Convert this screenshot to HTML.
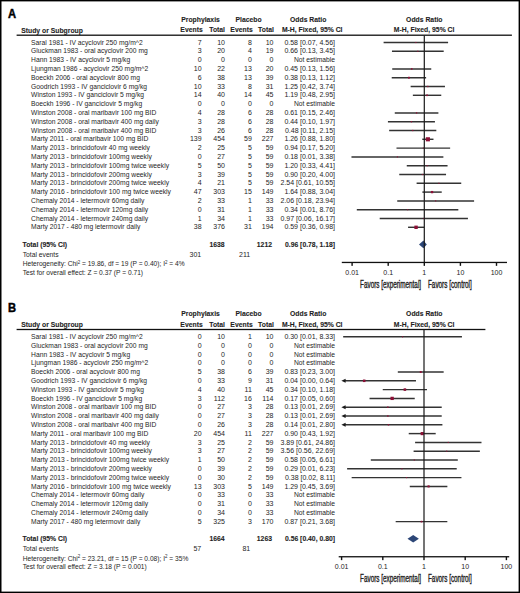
<!DOCTYPE html>
<html><head><meta charset="utf-8"><title>Forest plot</title>
<style>
html,body{margin:0;padding:0;background:#fff;}
body{width:520px;height:593px;overflow:hidden;position:relative;}
svg{position:absolute;left:0;top:0;display:block;font-family:"Liberation Sans",sans-serif;}
.frame{position:absolute;left:0;top:0;width:520px;height:593px;border:1.4px solid #000;box-sizing:border-box;}
</style></head>
<body>
<svg width="520" height="593" viewBox="0 0 520 593">
<text transform="translate(8.00,18.00) scale(0.93,1)" text-anchor="start" font-size="12" font-weight="bold" fill="#000" stroke="#000" stroke-width="0.45">A</text>
<text transform="translate(181.20,22.00) scale(0.975,1)" text-anchor="start" font-size="7.0" font-weight="bold" fill="#1e1e1e" stroke="#1e1e1e" stroke-width="0.1">Prophylaxis</text>
<text transform="translate(235.50,22.00) scale(0.975,1)" text-anchor="start" font-size="7.0" font-weight="bold" fill="#1e1e1e" stroke="#1e1e1e" stroke-width="0.1">Placebo</text>
<text transform="translate(290.00,22.00) scale(0.975,1)" text-anchor="start" font-size="7.0" font-weight="bold" fill="#1e1e1e" stroke="#1e1e1e" stroke-width="0.1">Odds Ratio</text>
<text transform="translate(406.10,22.00) scale(0.975,1)" text-anchor="start" font-size="7.0" font-weight="bold" fill="#1e1e1e" stroke="#1e1e1e" stroke-width="0.1">Odds Ratio</text>
<text transform="translate(21.20,32.50) scale(0.975,1)" text-anchor="start" font-size="7.0" font-weight="bold" fill="#1e1e1e" stroke="#1e1e1e" stroke-width="0.1">Study or Subgroup</text>
<text transform="translate(202.70,32.30) scale(0.975,1)" text-anchor="end" font-size="7.0" font-weight="bold" fill="#1e1e1e" stroke="#1e1e1e" stroke-width="0.1">Events</text>
<text transform="translate(225.00,32.30) scale(0.975,1)" text-anchor="end" font-size="7.0" font-weight="bold" fill="#1e1e1e" stroke="#1e1e1e" stroke-width="0.1">Total</text>
<text transform="translate(252.70,32.30) scale(0.975,1)" text-anchor="end" font-size="7.0" font-weight="bold" fill="#1e1e1e" stroke="#1e1e1e" stroke-width="0.1">Events</text>
<text transform="translate(273.90,32.30) scale(0.975,1)" text-anchor="end" font-size="7.0" font-weight="bold" fill="#1e1e1e" stroke="#1e1e1e" stroke-width="0.1">Total</text>
<text transform="translate(281.90,32.30) scale(0.975,1)" text-anchor="start" font-size="7.0" font-weight="bold" fill="#1e1e1e" stroke="#1e1e1e" stroke-width="0.1">M-H, Fixed, 95% CI</text>
<text transform="translate(393.80,32.30) scale(0.975,1)" text-anchor="start" font-size="7.0" font-weight="bold" fill="#1e1e1e" stroke="#1e1e1e" stroke-width="0.1">M-H, Fixed, 95% CI</text>
<rect x="16.6" y="34.55" width="495.30" height="1.3" fill="#111"/>
<text transform="translate(31.10,44.60) scale(0.962,1)" text-anchor="start" font-size="7.0" font-weight="normal" fill="#1e1e1e">Saral 1981 - IV acyclovir 250 mg/m^2</text>
<text transform="translate(201.60,44.60) scale(1.0,1)" text-anchor="end" font-size="7.0" font-weight="normal" fill="#1e1e1e">7</text>
<text transform="translate(225.00,44.60) scale(1.0,1)" text-anchor="end" font-size="7.0" font-weight="normal" fill="#1e1e1e">10</text>
<text transform="translate(251.80,44.60) scale(1.0,1)" text-anchor="end" font-size="7.0" font-weight="normal" fill="#1e1e1e">8</text>
<text transform="translate(273.50,44.60) scale(1.0,1)" text-anchor="end" font-size="7.0" font-weight="normal" fill="#1e1e1e">10</text>
<text transform="translate(335.00,44.60) scale(1.0,1)" text-anchor="end" font-size="7.0" font-weight="normal" fill="#1e1e1e">0.58 [0.07, 4.56]</text>
<text transform="translate(31.10,53.40) scale(0.962,1)" text-anchor="start" font-size="7.0" font-weight="normal" fill="#1e1e1e">Gluckman 1983 - oral acyclovir 200 mg</text>
<text transform="translate(201.60,53.40) scale(1.0,1)" text-anchor="end" font-size="7.0" font-weight="normal" fill="#1e1e1e">3</text>
<text transform="translate(225.00,53.40) scale(1.0,1)" text-anchor="end" font-size="7.0" font-weight="normal" fill="#1e1e1e">20</text>
<text transform="translate(251.80,53.40) scale(1.0,1)" text-anchor="end" font-size="7.0" font-weight="normal" fill="#1e1e1e">4</text>
<text transform="translate(273.50,53.40) scale(1.0,1)" text-anchor="end" font-size="7.0" font-weight="normal" fill="#1e1e1e">19</text>
<text transform="translate(335.00,53.40) scale(1.0,1)" text-anchor="end" font-size="7.0" font-weight="normal" fill="#1e1e1e">0.66 [0.13, 3.45]</text>
<text transform="translate(31.10,62.20) scale(0.962,1)" text-anchor="start" font-size="7.0" font-weight="normal" fill="#1e1e1e">Hann 1983 - IV acyclovir 5 mg/kg</text>
<text transform="translate(201.60,62.20) scale(1.0,1)" text-anchor="end" font-size="7.0" font-weight="normal" fill="#1e1e1e">0</text>
<text transform="translate(225.00,62.20) scale(1.0,1)" text-anchor="end" font-size="7.0" font-weight="normal" fill="#1e1e1e">0</text>
<text transform="translate(251.80,62.20) scale(1.0,1)" text-anchor="end" font-size="7.0" font-weight="normal" fill="#1e1e1e">0</text>
<text transform="translate(273.50,62.20) scale(1.0,1)" text-anchor="end" font-size="7.0" font-weight="normal" fill="#1e1e1e">0</text>
<text transform="translate(335.00,62.20) scale(0.962,1)" text-anchor="end" font-size="7.0" font-weight="normal" fill="#1e1e1e">Not estimable</text>
<text transform="translate(31.10,71.00) scale(0.962,1)" text-anchor="start" font-size="7.0" font-weight="normal" fill="#1e1e1e">Ljungman 1986 - acyclovir 250 mg/m^2</text>
<text transform="translate(201.60,71.00) scale(1.0,1)" text-anchor="end" font-size="7.0" font-weight="normal" fill="#1e1e1e">10</text>
<text transform="translate(225.00,71.00) scale(1.0,1)" text-anchor="end" font-size="7.0" font-weight="normal" fill="#1e1e1e">22</text>
<text transform="translate(251.80,71.00) scale(1.0,1)" text-anchor="end" font-size="7.0" font-weight="normal" fill="#1e1e1e">13</text>
<text transform="translate(273.50,71.00) scale(1.0,1)" text-anchor="end" font-size="7.0" font-weight="normal" fill="#1e1e1e">20</text>
<text transform="translate(335.00,71.00) scale(1.0,1)" text-anchor="end" font-size="7.0" font-weight="normal" fill="#1e1e1e">0.45 [0.13, 1.56]</text>
<text transform="translate(31.10,79.80) scale(0.962,1)" text-anchor="start" font-size="7.0" font-weight="normal" fill="#1e1e1e">Boeckh 2006 - oral acyclovir 800 mg</text>
<text transform="translate(201.60,79.80) scale(1.0,1)" text-anchor="end" font-size="7.0" font-weight="normal" fill="#1e1e1e">6</text>
<text transform="translate(225.00,79.80) scale(1.0,1)" text-anchor="end" font-size="7.0" font-weight="normal" fill="#1e1e1e">38</text>
<text transform="translate(251.80,79.80) scale(1.0,1)" text-anchor="end" font-size="7.0" font-weight="normal" fill="#1e1e1e">13</text>
<text transform="translate(273.50,79.80) scale(1.0,1)" text-anchor="end" font-size="7.0" font-weight="normal" fill="#1e1e1e">39</text>
<text transform="translate(335.00,79.80) scale(1.0,1)" text-anchor="end" font-size="7.0" font-weight="normal" fill="#1e1e1e">0.38 [0.13, 1.12]</text>
<text transform="translate(31.10,88.60) scale(0.962,1)" text-anchor="start" font-size="7.0" font-weight="normal" fill="#1e1e1e">Goodrich 1993 - IV ganciclovir 6 mg/kg</text>
<text transform="translate(201.60,88.60) scale(1.0,1)" text-anchor="end" font-size="7.0" font-weight="normal" fill="#1e1e1e">10</text>
<text transform="translate(225.00,88.60) scale(1.0,1)" text-anchor="end" font-size="7.0" font-weight="normal" fill="#1e1e1e">33</text>
<text transform="translate(251.80,88.60) scale(1.0,1)" text-anchor="end" font-size="7.0" font-weight="normal" fill="#1e1e1e">8</text>
<text transform="translate(273.50,88.60) scale(1.0,1)" text-anchor="end" font-size="7.0" font-weight="normal" fill="#1e1e1e">31</text>
<text transform="translate(335.00,88.60) scale(1.0,1)" text-anchor="end" font-size="7.0" font-weight="normal" fill="#1e1e1e">1.25 [0.42, 3.74]</text>
<text transform="translate(31.10,97.40) scale(0.962,1)" text-anchor="start" font-size="7.0" font-weight="normal" fill="#1e1e1e">Winston 1993 - IV ganciclovir 5 mg/kg</text>
<text transform="translate(201.60,97.40) scale(1.0,1)" text-anchor="end" font-size="7.0" font-weight="normal" fill="#1e1e1e">14</text>
<text transform="translate(225.00,97.40) scale(1.0,1)" text-anchor="end" font-size="7.0" font-weight="normal" fill="#1e1e1e">40</text>
<text transform="translate(251.80,97.40) scale(1.0,1)" text-anchor="end" font-size="7.0" font-weight="normal" fill="#1e1e1e">14</text>
<text transform="translate(273.50,97.40) scale(1.0,1)" text-anchor="end" font-size="7.0" font-weight="normal" fill="#1e1e1e">45</text>
<text transform="translate(335.00,97.40) scale(1.0,1)" text-anchor="end" font-size="7.0" font-weight="normal" fill="#1e1e1e">1.19 [0.48, 2.95]</text>
<text transform="translate(31.10,106.20) scale(0.962,1)" text-anchor="start" font-size="7.0" font-weight="normal" fill="#1e1e1e">Boeckh 1996 - IV ganciclovir 5 mg/kg</text>
<text transform="translate(201.60,106.20) scale(1.0,1)" text-anchor="end" font-size="7.0" font-weight="normal" fill="#1e1e1e">0</text>
<text transform="translate(225.00,106.20) scale(1.0,1)" text-anchor="end" font-size="7.0" font-weight="normal" fill="#1e1e1e">0</text>
<text transform="translate(251.80,106.20) scale(1.0,1)" text-anchor="end" font-size="7.0" font-weight="normal" fill="#1e1e1e">0</text>
<text transform="translate(273.50,106.20) scale(1.0,1)" text-anchor="end" font-size="7.0" font-weight="normal" fill="#1e1e1e">0</text>
<text transform="translate(335.00,106.20) scale(0.962,1)" text-anchor="end" font-size="7.0" font-weight="normal" fill="#1e1e1e">Not estimable</text>
<text transform="translate(31.10,115.00) scale(0.962,1)" text-anchor="start" font-size="7.0" font-weight="normal" fill="#1e1e1e">Winston 2008 - oral maribavir 100 mg BID</text>
<text transform="translate(201.60,115.00) scale(1.0,1)" text-anchor="end" font-size="7.0" font-weight="normal" fill="#1e1e1e">4</text>
<text transform="translate(225.00,115.00) scale(1.0,1)" text-anchor="end" font-size="7.0" font-weight="normal" fill="#1e1e1e">28</text>
<text transform="translate(251.80,115.00) scale(1.0,1)" text-anchor="end" font-size="7.0" font-weight="normal" fill="#1e1e1e">6</text>
<text transform="translate(273.50,115.00) scale(1.0,1)" text-anchor="end" font-size="7.0" font-weight="normal" fill="#1e1e1e">28</text>
<text transform="translate(335.00,115.00) scale(1.0,1)" text-anchor="end" font-size="7.0" font-weight="normal" fill="#1e1e1e">0.61 [0.15, 2.46]</text>
<text transform="translate(31.10,123.80) scale(0.962,1)" text-anchor="start" font-size="7.0" font-weight="normal" fill="#1e1e1e">Winston 2008 - oral maribavir 400 mg daily</text>
<text transform="translate(201.60,123.80) scale(1.0,1)" text-anchor="end" font-size="7.0" font-weight="normal" fill="#1e1e1e">3</text>
<text transform="translate(225.00,123.80) scale(1.0,1)" text-anchor="end" font-size="7.0" font-weight="normal" fill="#1e1e1e">28</text>
<text transform="translate(251.80,123.80) scale(1.0,1)" text-anchor="end" font-size="7.0" font-weight="normal" fill="#1e1e1e">6</text>
<text transform="translate(273.50,123.80) scale(1.0,1)" text-anchor="end" font-size="7.0" font-weight="normal" fill="#1e1e1e">28</text>
<text transform="translate(335.00,123.80) scale(1.0,1)" text-anchor="end" font-size="7.0" font-weight="normal" fill="#1e1e1e">0.44 [0.10, 1.97]</text>
<text transform="translate(31.10,132.60) scale(0.962,1)" text-anchor="start" font-size="7.0" font-weight="normal" fill="#1e1e1e">Winston 2008 - oral maribaivr 400 mg BID</text>
<text transform="translate(201.60,132.60) scale(1.0,1)" text-anchor="end" font-size="7.0" font-weight="normal" fill="#1e1e1e">3</text>
<text transform="translate(225.00,132.60) scale(1.0,1)" text-anchor="end" font-size="7.0" font-weight="normal" fill="#1e1e1e">26</text>
<text transform="translate(251.80,132.60) scale(1.0,1)" text-anchor="end" font-size="7.0" font-weight="normal" fill="#1e1e1e">6</text>
<text transform="translate(273.50,132.60) scale(1.0,1)" text-anchor="end" font-size="7.0" font-weight="normal" fill="#1e1e1e">28</text>
<text transform="translate(335.00,132.60) scale(1.0,1)" text-anchor="end" font-size="7.0" font-weight="normal" fill="#1e1e1e">0.48 [0.11, 2.15]</text>
<text transform="translate(31.10,141.40) scale(0.962,1)" text-anchor="start" font-size="7.0" font-weight="normal" fill="#1e1e1e">Marty 2011 - oral maribavir 100 mg BID</text>
<text transform="translate(201.60,141.40) scale(1.0,1)" text-anchor="end" font-size="7.0" font-weight="normal" fill="#1e1e1e">139</text>
<text transform="translate(225.00,141.40) scale(1.0,1)" text-anchor="end" font-size="7.0" font-weight="normal" fill="#1e1e1e">454</text>
<text transform="translate(251.80,141.40) scale(1.0,1)" text-anchor="end" font-size="7.0" font-weight="normal" fill="#1e1e1e">59</text>
<text transform="translate(273.50,141.40) scale(1.0,1)" text-anchor="end" font-size="7.0" font-weight="normal" fill="#1e1e1e">227</text>
<text transform="translate(335.00,141.40) scale(1.0,1)" text-anchor="end" font-size="7.0" font-weight="normal" fill="#1e1e1e">1.26 [0.88, 1.80]</text>
<text transform="translate(31.10,150.20) scale(0.962,1)" text-anchor="start" font-size="7.0" font-weight="normal" fill="#1e1e1e">Marty 2013 - brincidofovir 40 mg weekly</text>
<text transform="translate(201.60,150.20) scale(1.0,1)" text-anchor="end" font-size="7.0" font-weight="normal" fill="#1e1e1e">2</text>
<text transform="translate(225.00,150.20) scale(1.0,1)" text-anchor="end" font-size="7.0" font-weight="normal" fill="#1e1e1e">25</text>
<text transform="translate(251.80,150.20) scale(1.0,1)" text-anchor="end" font-size="7.0" font-weight="normal" fill="#1e1e1e">5</text>
<text transform="translate(273.50,150.20) scale(1.0,1)" text-anchor="end" font-size="7.0" font-weight="normal" fill="#1e1e1e">59</text>
<text transform="translate(335.00,150.20) scale(1.0,1)" text-anchor="end" font-size="7.0" font-weight="normal" fill="#1e1e1e">0.94 [0.17, 5.20]</text>
<text transform="translate(31.10,159.00) scale(0.962,1)" text-anchor="start" font-size="7.0" font-weight="normal" fill="#1e1e1e">Marty 2013 - brincidofovir 100mg weekly</text>
<text transform="translate(201.60,159.00) scale(1.0,1)" text-anchor="end" font-size="7.0" font-weight="normal" fill="#1e1e1e">0</text>
<text transform="translate(225.00,159.00) scale(1.0,1)" text-anchor="end" font-size="7.0" font-weight="normal" fill="#1e1e1e">27</text>
<text transform="translate(251.80,159.00) scale(1.0,1)" text-anchor="end" font-size="7.0" font-weight="normal" fill="#1e1e1e">5</text>
<text transform="translate(273.50,159.00) scale(1.0,1)" text-anchor="end" font-size="7.0" font-weight="normal" fill="#1e1e1e">59</text>
<text transform="translate(335.00,159.00) scale(1.0,1)" text-anchor="end" font-size="7.0" font-weight="normal" fill="#1e1e1e">0.18 [0.01, 3.38]</text>
<text transform="translate(31.10,167.80) scale(0.962,1)" text-anchor="start" font-size="7.0" font-weight="normal" fill="#1e1e1e">Marty 2013 - brincidofovir 100mg twice weekly</text>
<text transform="translate(201.60,167.80) scale(1.0,1)" text-anchor="end" font-size="7.0" font-weight="normal" fill="#1e1e1e">5</text>
<text transform="translate(225.00,167.80) scale(1.0,1)" text-anchor="end" font-size="7.0" font-weight="normal" fill="#1e1e1e">50</text>
<text transform="translate(251.80,167.80) scale(1.0,1)" text-anchor="end" font-size="7.0" font-weight="normal" fill="#1e1e1e">5</text>
<text transform="translate(273.50,167.80) scale(1.0,1)" text-anchor="end" font-size="7.0" font-weight="normal" fill="#1e1e1e">59</text>
<text transform="translate(335.00,167.80) scale(1.0,1)" text-anchor="end" font-size="7.0" font-weight="normal" fill="#1e1e1e">1.20 [0.33, 4.41]</text>
<text transform="translate(31.10,176.60) scale(0.962,1)" text-anchor="start" font-size="7.0" font-weight="normal" fill="#1e1e1e">Marty 2013 - brincidofovir 200mg weekly</text>
<text transform="translate(201.60,176.60) scale(1.0,1)" text-anchor="end" font-size="7.0" font-weight="normal" fill="#1e1e1e">3</text>
<text transform="translate(225.00,176.60) scale(1.0,1)" text-anchor="end" font-size="7.0" font-weight="normal" fill="#1e1e1e">39</text>
<text transform="translate(251.80,176.60) scale(1.0,1)" text-anchor="end" font-size="7.0" font-weight="normal" fill="#1e1e1e">5</text>
<text transform="translate(273.50,176.60) scale(1.0,1)" text-anchor="end" font-size="7.0" font-weight="normal" fill="#1e1e1e">59</text>
<text transform="translate(335.00,176.60) scale(1.0,1)" text-anchor="end" font-size="7.0" font-weight="normal" fill="#1e1e1e">0.90 [0.20, 4.00]</text>
<text transform="translate(31.10,185.40) scale(0.962,1)" text-anchor="start" font-size="7.0" font-weight="normal" fill="#1e1e1e">Marty 2013 - brincidofovir 200mg twice weekly</text>
<text transform="translate(201.60,185.40) scale(1.0,1)" text-anchor="end" font-size="7.0" font-weight="normal" fill="#1e1e1e">4</text>
<text transform="translate(225.00,185.40) scale(1.0,1)" text-anchor="end" font-size="7.0" font-weight="normal" fill="#1e1e1e">21</text>
<text transform="translate(251.80,185.40) scale(1.0,1)" text-anchor="end" font-size="7.0" font-weight="normal" fill="#1e1e1e">5</text>
<text transform="translate(273.50,185.40) scale(1.0,1)" text-anchor="end" font-size="7.0" font-weight="normal" fill="#1e1e1e">59</text>
<text transform="translate(335.00,185.40) scale(1.0,1)" text-anchor="end" font-size="7.0" font-weight="normal" fill="#1e1e1e">2.54 [0.61, 10.55]</text>
<text transform="translate(31.10,194.20) scale(0.962,1)" text-anchor="start" font-size="7.0" font-weight="normal" fill="#1e1e1e">Marty 2016 - brincidofovir 100 mg twice weekly</text>
<text transform="translate(201.60,194.20) scale(1.0,1)" text-anchor="end" font-size="7.0" font-weight="normal" fill="#1e1e1e">47</text>
<text transform="translate(225.00,194.20) scale(1.0,1)" text-anchor="end" font-size="7.0" font-weight="normal" fill="#1e1e1e">303</text>
<text transform="translate(251.80,194.20) scale(1.0,1)" text-anchor="end" font-size="7.0" font-weight="normal" fill="#1e1e1e">15</text>
<text transform="translate(273.50,194.20) scale(1.0,1)" text-anchor="end" font-size="7.0" font-weight="normal" fill="#1e1e1e">149</text>
<text transform="translate(335.00,194.20) scale(1.0,1)" text-anchor="end" font-size="7.0" font-weight="normal" fill="#1e1e1e">1.64 [0.88, 3.04]</text>
<text transform="translate(31.10,203.00) scale(0.962,1)" text-anchor="start" font-size="7.0" font-weight="normal" fill="#1e1e1e">Chemaly 2014 - letermovir 60mg daily</text>
<text transform="translate(201.60,203.00) scale(1.0,1)" text-anchor="end" font-size="7.0" font-weight="normal" fill="#1e1e1e">2</text>
<text transform="translate(225.00,203.00) scale(1.0,1)" text-anchor="end" font-size="7.0" font-weight="normal" fill="#1e1e1e">33</text>
<text transform="translate(251.80,203.00) scale(1.0,1)" text-anchor="end" font-size="7.0" font-weight="normal" fill="#1e1e1e">1</text>
<text transform="translate(273.50,203.00) scale(1.0,1)" text-anchor="end" font-size="7.0" font-weight="normal" fill="#1e1e1e">33</text>
<text transform="translate(335.00,203.00) scale(1.0,1)" text-anchor="end" font-size="7.0" font-weight="normal" fill="#1e1e1e">2.06 [0.18, 23.94]</text>
<text transform="translate(31.10,211.80) scale(0.962,1)" text-anchor="start" font-size="7.0" font-weight="normal" fill="#1e1e1e">Chemaly 2014 - letermovir 120mg daily</text>
<text transform="translate(201.60,211.80) scale(1.0,1)" text-anchor="end" font-size="7.0" font-weight="normal" fill="#1e1e1e">0</text>
<text transform="translate(225.00,211.80) scale(1.0,1)" text-anchor="end" font-size="7.0" font-weight="normal" fill="#1e1e1e">31</text>
<text transform="translate(251.80,211.80) scale(1.0,1)" text-anchor="end" font-size="7.0" font-weight="normal" fill="#1e1e1e">1</text>
<text transform="translate(273.50,211.80) scale(1.0,1)" text-anchor="end" font-size="7.0" font-weight="normal" fill="#1e1e1e">33</text>
<text transform="translate(335.00,211.80) scale(1.0,1)" text-anchor="end" font-size="7.0" font-weight="normal" fill="#1e1e1e">0.34 [0.01, 8.76]</text>
<text transform="translate(31.10,220.60) scale(0.962,1)" text-anchor="start" font-size="7.0" font-weight="normal" fill="#1e1e1e">Chemaly 2014 - letermovir 240mg daily</text>
<text transform="translate(201.60,220.60) scale(1.0,1)" text-anchor="end" font-size="7.0" font-weight="normal" fill="#1e1e1e">1</text>
<text transform="translate(225.00,220.60) scale(1.0,1)" text-anchor="end" font-size="7.0" font-weight="normal" fill="#1e1e1e">34</text>
<text transform="translate(251.80,220.60) scale(1.0,1)" text-anchor="end" font-size="7.0" font-weight="normal" fill="#1e1e1e">1</text>
<text transform="translate(273.50,220.60) scale(1.0,1)" text-anchor="end" font-size="7.0" font-weight="normal" fill="#1e1e1e">33</text>
<text transform="translate(335.00,220.60) scale(1.0,1)" text-anchor="end" font-size="7.0" font-weight="normal" fill="#1e1e1e">0.97 [0.06, 16.17]</text>
<text transform="translate(31.10,229.40) scale(0.962,1)" text-anchor="start" font-size="7.0" font-weight="normal" fill="#1e1e1e">Marty 2017 - 480 mg letermovir daily</text>
<text transform="translate(201.60,229.40) scale(1.0,1)" text-anchor="end" font-size="7.0" font-weight="normal" fill="#1e1e1e">38</text>
<text transform="translate(225.00,229.40) scale(1.0,1)" text-anchor="end" font-size="7.0" font-weight="normal" fill="#1e1e1e">376</text>
<text transform="translate(251.80,229.40) scale(1.0,1)" text-anchor="end" font-size="7.0" font-weight="normal" fill="#1e1e1e">31</text>
<text transform="translate(273.50,229.40) scale(1.0,1)" text-anchor="end" font-size="7.0" font-weight="normal" fill="#1e1e1e">194</text>
<text transform="translate(335.00,229.40) scale(1.0,1)" text-anchor="end" font-size="7.0" font-weight="normal" fill="#1e1e1e">0.59 [0.36, 0.98]</text>
<line x1="383.60" y1="42.50" x2="448.10" y2="42.50" stroke="#333" stroke-width="1.45"/>
<rect x="415.30" y="41.95" width="1.10" height="1.10" fill="#8c1036"/>
<line x1="391.96" y1="51.30" x2="443.70" y2="51.30" stroke="#333" stroke-width="1.45"/>
<rect x="417.28" y="50.75" width="1.10" height="1.10" fill="#8c1036"/>
<line x1="392.23" y1="68.90" x2="431.25" y2="68.90" stroke="#333" stroke-width="1.45"/>
<rect x="410.98" y="68.14" width="1.52" height="1.52" fill="#8c1036"/>
<line x1="391.72" y1="77.70" x2="426.12" y2="77.70" stroke="#333" stroke-width="1.45"/>
<rect x="408.01" y="76.78" width="1.83" height="1.83" fill="#8c1036"/>
<line x1="410.64" y1="86.50" x2="444.96" y2="86.50" stroke="#333" stroke-width="1.45"/>
<rect x="427.13" y="85.83" width="1.34" height="1.34" fill="#8c1036"/>
<line x1="412.86" y1="95.30" x2="441.26" y2="95.30" stroke="#333" stroke-width="1.45"/>
<rect x="426.24" y="94.48" width="1.63" height="1.63" fill="#8c1036"/>
<line x1="394.77" y1="112.90" x2="438.39" y2="112.90" stroke="#333" stroke-width="1.45"/>
<rect x="415.95" y="112.27" width="1.26" height="1.26" fill="#8c1036"/>
<line x1="387.92" y1="121.70" x2="434.94" y2="121.70" stroke="#333" stroke-width="1.45"/>
<rect x="410.78" y="121.05" width="1.29" height="1.29" fill="#8c1036"/>
<line x1="389.15" y1="130.50" x2="436.32" y2="130.50" stroke="#333" stroke-width="1.45"/>
<rect x="412.11" y="129.87" width="1.26" height="1.26" fill="#8c1036"/>
<line x1="422.27" y1="139.30" x2="433.48" y2="139.30" stroke="#333" stroke-width="1.45"/>
<rect x="425.82" y="137.24" width="4.12" height="4.12" fill="#8c1036"/>
<line x1="396.49" y1="148.10" x2="450.14" y2="148.10" stroke="#333" stroke-width="1.45"/>
<rect x="422.77" y="147.55" width="1.10" height="1.10" fill="#8c1036"/>
<line x1="351.47" y1="156.90" x2="443.38" y2="156.90" stroke="#333" stroke-width="1.45"/>
<rect x="396.88" y="156.35" width="1.10" height="1.10" fill="#8c1036"/>
<line x1="406.76" y1="165.70" x2="447.56" y2="165.70" stroke="#333" stroke-width="1.45"/>
<rect x="426.59" y="165.13" width="1.13" height="1.13" fill="#8c1036"/>
<line x1="399.25" y1="174.50" x2="446.04" y2="174.50" stroke="#333" stroke-width="1.45"/>
<rect x="422.10" y="173.95" width="1.10" height="1.10" fill="#8c1036"/>
<line x1="416.61" y1="183.30" x2="461.24" y2="183.30" stroke="#333" stroke-width="1.45"/>
<rect x="438.37" y="182.75" width="1.10" height="1.10" fill="#8c1036"/>
<line x1="422.37" y1="192.10" x2="441.74" y2="192.10" stroke="#333" stroke-width="1.45"/>
<rect x="430.91" y="190.95" width="2.30" height="2.30" fill="#8c1036"/>
<line x1="397.24" y1="200.90" x2="474.09" y2="200.90" stroke="#333" stroke-width="1.45"/>
<rect x="435.11" y="200.35" width="1.10" height="1.10" fill="#8c1036"/>
<line x1="356.80" y1="209.70" x2="458.33" y2="209.70" stroke="#333" stroke-width="1.45"/>
<rect x="407.02" y="209.15" width="1.10" height="1.10" fill="#8c1036"/>
<line x1="379.70" y1="218.50" x2="467.94" y2="218.50" stroke="#333" stroke-width="1.45"/>
<rect x="423.27" y="217.95" width="1.10" height="1.10" fill="#8c1036"/>
<line x1="408.06" y1="227.30" x2="424.05" y2="227.30" stroke="#333" stroke-width="1.45"/>
<rect x="414.37" y="225.61" width="3.38" height="3.38" fill="#8c1036"/>
<text transform="translate(22.50,246.80) scale(0.975,1)" text-anchor="start" font-size="7.0" font-weight="bold" fill="#1e1e1e" stroke="#1e1e1e" stroke-width="0.1">Total (95% CI)</text>
<text transform="translate(224.60,246.60) scale(0.975,1)" text-anchor="end" font-size="7.0" font-weight="bold" fill="#1e1e1e" stroke="#1e1e1e" stroke-width="0.1">1638</text>
<text transform="translate(272.00,246.60) scale(0.975,1)" text-anchor="end" font-size="7.0" font-weight="bold" fill="#1e1e1e" stroke="#1e1e1e" stroke-width="0.1">1212</text>
<text transform="translate(335.00,246.60) scale(0.975,1)" text-anchor="end" font-size="7.0" font-weight="bold" fill="#1e1e1e" stroke="#1e1e1e" stroke-width="0.1">0.96 [0.78, 1.18]</text>
<text transform="translate(22.70,257.00) scale(0.962,1)" text-anchor="start" font-size="7.0" font-weight="normal" fill="#1e1e1e">Total events</text>
<text transform="translate(201.20,257.00) scale(1.0,1)" text-anchor="end" font-size="7.0" font-weight="normal" fill="#1e1e1e">301</text>
<text transform="translate(250.20,257.00) scale(1.0,1)" text-anchor="end" font-size="7.0" font-weight="normal" fill="#1e1e1e">211</text>
<text transform="translate(22.70,266.20) scale(0.95,1)" text-anchor="start" font-size="7.0" font-weight="normal" fill="#1e1e1e">Heterogeneity: Chi<tspan font-size="4.6" dy="-2.4">2</tspan><tspan dy="2.4"> = 19.86, df = 19 (P = 0.40); I</tspan><tspan font-size="4.6" dy="-2.4">2</tspan><tspan dy="2.4"> = 4%</tspan></text>
<text transform="translate(22.70,274.60) scale(0.95,1)" text-anchor="start" font-size="7.0" font-weight="normal" fill="#1e1e1e">Test for overall effect: Z = 0.37 (P = 0.71)</text>
<path d="M419.00,244.40 L423.40,240.60 L426.80,244.40 L423.40,248.20 Z" fill="#2c4677"/>
<rect x="423.70" y="35.50" width="1.2" height="226.90" fill="#1a1a1a"/>
<rect x="341.80" y="261.80" width="165.20" height="1.3" fill="#111"/>
<rect x="351.40" y="262.45" width="1.4" height="3.4" fill="#111"/>
<text transform="translate(352.10,275.00) scale(1.0,1)" text-anchor="middle" font-size="7.0" font-weight="normal" fill="#1e1e1e">0.01</text>
<rect x="387.50" y="262.45" width="1.4" height="3.4" fill="#111"/>
<text transform="translate(388.20,275.00) scale(1.0,1)" text-anchor="middle" font-size="7.0" font-weight="normal" fill="#1e1e1e">0.1</text>
<rect x="423.60" y="262.45" width="1.4" height="3.4" fill="#111"/>
<text transform="translate(424.30,275.00) scale(1.0,1)" text-anchor="middle" font-size="7.0" font-weight="normal" fill="#1e1e1e">1</text>
<rect x="459.70" y="262.45" width="1.4" height="3.4" fill="#111"/>
<text transform="translate(460.40,275.00) scale(1.0,1)" text-anchor="middle" font-size="7.0" font-weight="normal" fill="#1e1e1e">10</text>
<rect x="495.80" y="262.45" width="1.4" height="3.4" fill="#111"/>
<text transform="translate(496.50,275.00) scale(1.0,1)" text-anchor="middle" font-size="7.0" font-weight="normal" fill="#1e1e1e">100</text>
<text transform="translate(360.10,287.90) scale(0.6354654186167447,1)" text-anchor="start" font-size="10" font-weight="normal" fill="#222" stroke="#222" stroke-width="0.35">Favors [experimental]</text>
<text transform="translate(428.00,287.90) scale(0.6355886087429712,1)" text-anchor="start" font-size="10" font-weight="normal" fill="#222" stroke="#222" stroke-width="0.35">Favors [control]</text>
<text transform="translate(8.00,312.30) scale(0.93,1)" text-anchor="start" font-size="12" font-weight="bold" fill="#000" stroke="#000" stroke-width="0.45">B</text>
<text transform="translate(181.20,316.30) scale(0.975,1)" text-anchor="start" font-size="7.0" font-weight="bold" fill="#1e1e1e" stroke="#1e1e1e" stroke-width="0.1">Prophylaxis</text>
<text transform="translate(235.50,316.30) scale(0.975,1)" text-anchor="start" font-size="7.0" font-weight="bold" fill="#1e1e1e" stroke="#1e1e1e" stroke-width="0.1">Placebo</text>
<text transform="translate(290.00,316.30) scale(0.975,1)" text-anchor="start" font-size="7.0" font-weight="bold" fill="#1e1e1e" stroke="#1e1e1e" stroke-width="0.1">Odds Ratio</text>
<text transform="translate(406.10,316.30) scale(0.975,1)" text-anchor="start" font-size="7.0" font-weight="bold" fill="#1e1e1e" stroke="#1e1e1e" stroke-width="0.1">Odds Ratio</text>
<text transform="translate(21.20,326.80) scale(0.975,1)" text-anchor="start" font-size="7.0" font-weight="bold" fill="#1e1e1e" stroke="#1e1e1e" stroke-width="0.1">Study or Subgroup</text>
<text transform="translate(202.70,326.60) scale(0.975,1)" text-anchor="end" font-size="7.0" font-weight="bold" fill="#1e1e1e" stroke="#1e1e1e" stroke-width="0.1">Events</text>
<text transform="translate(225.00,326.60) scale(0.975,1)" text-anchor="end" font-size="7.0" font-weight="bold" fill="#1e1e1e" stroke="#1e1e1e" stroke-width="0.1">Total</text>
<text transform="translate(252.70,326.60) scale(0.975,1)" text-anchor="end" font-size="7.0" font-weight="bold" fill="#1e1e1e" stroke="#1e1e1e" stroke-width="0.1">Events</text>
<text transform="translate(273.90,326.60) scale(0.975,1)" text-anchor="end" font-size="7.0" font-weight="bold" fill="#1e1e1e" stroke="#1e1e1e" stroke-width="0.1">Total</text>
<text transform="translate(281.90,326.60) scale(0.975,1)" text-anchor="start" font-size="7.0" font-weight="bold" fill="#1e1e1e" stroke="#1e1e1e" stroke-width="0.1">M-H, Fixed, 95% CI</text>
<text transform="translate(393.80,326.60) scale(0.975,1)" text-anchor="start" font-size="7.0" font-weight="bold" fill="#1e1e1e" stroke="#1e1e1e" stroke-width="0.1">M-H, Fixed, 95% CI</text>
<rect x="16.6" y="328.85" width="468.80" height="1.3" fill="#111"/>
<text transform="translate(31.10,338.90) scale(0.962,1)" text-anchor="start" font-size="7.0" font-weight="normal" fill="#1e1e1e">Saral 1981 - IV acyclovir 250 mg/m^2</text>
<text transform="translate(201.60,338.90) scale(1.0,1)" text-anchor="end" font-size="7.0" font-weight="normal" fill="#1e1e1e">0</text>
<text transform="translate(225.00,338.90) scale(1.0,1)" text-anchor="end" font-size="7.0" font-weight="normal" fill="#1e1e1e">10</text>
<text transform="translate(251.80,338.90) scale(1.0,1)" text-anchor="end" font-size="7.0" font-weight="normal" fill="#1e1e1e">1</text>
<text transform="translate(273.50,338.90) scale(1.0,1)" text-anchor="end" font-size="7.0" font-weight="normal" fill="#1e1e1e">10</text>
<text transform="translate(335.00,338.90) scale(1.0,1)" text-anchor="end" font-size="7.0" font-weight="normal" fill="#1e1e1e">0.30 [0.01, 8.33]</text>
<text transform="translate(31.10,347.70) scale(0.962,1)" text-anchor="start" font-size="7.0" font-weight="normal" fill="#1e1e1e">Gluckman 1983 - oral acyclovir 200 mg</text>
<text transform="translate(201.60,347.70) scale(1.0,1)" text-anchor="end" font-size="7.0" font-weight="normal" fill="#1e1e1e">0</text>
<text transform="translate(225.00,347.70) scale(1.0,1)" text-anchor="end" font-size="7.0" font-weight="normal" fill="#1e1e1e">0</text>
<text transform="translate(251.80,347.70) scale(1.0,1)" text-anchor="end" font-size="7.0" font-weight="normal" fill="#1e1e1e">0</text>
<text transform="translate(273.50,347.70) scale(1.0,1)" text-anchor="end" font-size="7.0" font-weight="normal" fill="#1e1e1e">0</text>
<text transform="translate(335.00,347.70) scale(0.962,1)" text-anchor="end" font-size="7.0" font-weight="normal" fill="#1e1e1e">Not estimable</text>
<text transform="translate(31.10,356.50) scale(0.962,1)" text-anchor="start" font-size="7.0" font-weight="normal" fill="#1e1e1e">Hann 1983 - IV acyclovir 5 mg/kg</text>
<text transform="translate(201.60,356.50) scale(1.0,1)" text-anchor="end" font-size="7.0" font-weight="normal" fill="#1e1e1e">0</text>
<text transform="translate(225.00,356.50) scale(1.0,1)" text-anchor="end" font-size="7.0" font-weight="normal" fill="#1e1e1e">0</text>
<text transform="translate(251.80,356.50) scale(1.0,1)" text-anchor="end" font-size="7.0" font-weight="normal" fill="#1e1e1e">0</text>
<text transform="translate(273.50,356.50) scale(1.0,1)" text-anchor="end" font-size="7.0" font-weight="normal" fill="#1e1e1e">0</text>
<text transform="translate(335.00,356.50) scale(0.962,1)" text-anchor="end" font-size="7.0" font-weight="normal" fill="#1e1e1e">Not estimable</text>
<text transform="translate(31.10,365.30) scale(0.962,1)" text-anchor="start" font-size="7.0" font-weight="normal" fill="#1e1e1e">Ljungman 1986 - acyclovir 250 mg/m^2</text>
<text transform="translate(201.60,365.30) scale(1.0,1)" text-anchor="end" font-size="7.0" font-weight="normal" fill="#1e1e1e">0</text>
<text transform="translate(225.00,365.30) scale(1.0,1)" text-anchor="end" font-size="7.0" font-weight="normal" fill="#1e1e1e">0</text>
<text transform="translate(251.80,365.30) scale(1.0,1)" text-anchor="end" font-size="7.0" font-weight="normal" fill="#1e1e1e">0</text>
<text transform="translate(273.50,365.30) scale(1.0,1)" text-anchor="end" font-size="7.0" font-weight="normal" fill="#1e1e1e">0</text>
<text transform="translate(335.00,365.30) scale(0.962,1)" text-anchor="end" font-size="7.0" font-weight="normal" fill="#1e1e1e">Not estimable</text>
<text transform="translate(31.10,374.10) scale(0.962,1)" text-anchor="start" font-size="7.0" font-weight="normal" fill="#1e1e1e">Boeckh 2006 -  oral acyclovir 800 mg</text>
<text transform="translate(201.60,374.10) scale(1.0,1)" text-anchor="end" font-size="7.0" font-weight="normal" fill="#1e1e1e">5</text>
<text transform="translate(225.00,374.10) scale(1.0,1)" text-anchor="end" font-size="7.0" font-weight="normal" fill="#1e1e1e">38</text>
<text transform="translate(251.80,374.10) scale(1.0,1)" text-anchor="end" font-size="7.0" font-weight="normal" fill="#1e1e1e">6</text>
<text transform="translate(273.50,374.10) scale(1.0,1)" text-anchor="end" font-size="7.0" font-weight="normal" fill="#1e1e1e">39</text>
<text transform="translate(335.00,374.10) scale(1.0,1)" text-anchor="end" font-size="7.0" font-weight="normal" fill="#1e1e1e">0.83 [0.23, 3.00]</text>
<text transform="translate(31.10,382.90) scale(0.962,1)" text-anchor="start" font-size="7.0" font-weight="normal" fill="#1e1e1e">Goodrich 1993 - IV ganciclovir 6 mg/kg</text>
<text transform="translate(201.60,382.90) scale(1.0,1)" text-anchor="end" font-size="7.0" font-weight="normal" fill="#1e1e1e">0</text>
<text transform="translate(225.00,382.90) scale(1.0,1)" text-anchor="end" font-size="7.0" font-weight="normal" fill="#1e1e1e">33</text>
<text transform="translate(251.80,382.90) scale(1.0,1)" text-anchor="end" font-size="7.0" font-weight="normal" fill="#1e1e1e">9</text>
<text transform="translate(273.50,382.90) scale(1.0,1)" text-anchor="end" font-size="7.0" font-weight="normal" fill="#1e1e1e">31</text>
<text transform="translate(335.00,382.90) scale(1.0,1)" text-anchor="end" font-size="7.0" font-weight="normal" fill="#1e1e1e">0.04 [0.00, 0.64]</text>
<text transform="translate(31.10,391.70) scale(0.962,1)" text-anchor="start" font-size="7.0" font-weight="normal" fill="#1e1e1e">Winston 1993 - IV ganciclovir 5 mg/kg</text>
<text transform="translate(201.60,391.70) scale(1.0,1)" text-anchor="end" font-size="7.0" font-weight="normal" fill="#1e1e1e">4</text>
<text transform="translate(225.00,391.70) scale(1.0,1)" text-anchor="end" font-size="7.0" font-weight="normal" fill="#1e1e1e">40</text>
<text transform="translate(251.80,391.70) scale(1.0,1)" text-anchor="end" font-size="7.0" font-weight="normal" fill="#1e1e1e">11</text>
<text transform="translate(273.50,391.70) scale(1.0,1)" text-anchor="end" font-size="7.0" font-weight="normal" fill="#1e1e1e">45</text>
<text transform="translate(335.00,391.70) scale(1.0,1)" text-anchor="end" font-size="7.0" font-weight="normal" fill="#1e1e1e">0.34 [0.10, 1.18]</text>
<text transform="translate(31.10,400.50) scale(0.962,1)" text-anchor="start" font-size="7.0" font-weight="normal" fill="#1e1e1e">Boeckh 1996 - IV ganciclovir 5 mg/kg</text>
<text transform="translate(201.60,400.50) scale(1.0,1)" text-anchor="end" font-size="7.0" font-weight="normal" fill="#1e1e1e">3</text>
<text transform="translate(225.00,400.50) scale(1.0,1)" text-anchor="end" font-size="7.0" font-weight="normal" fill="#1e1e1e">112</text>
<text transform="translate(251.80,400.50) scale(1.0,1)" text-anchor="end" font-size="7.0" font-weight="normal" fill="#1e1e1e">16</text>
<text transform="translate(273.50,400.50) scale(1.0,1)" text-anchor="end" font-size="7.0" font-weight="normal" fill="#1e1e1e">114</text>
<text transform="translate(335.00,400.50) scale(1.0,1)" text-anchor="end" font-size="7.0" font-weight="normal" fill="#1e1e1e">0.17 [0.05, 0.60]</text>
<text transform="translate(31.10,409.30) scale(0.962,1)" text-anchor="start" font-size="7.0" font-weight="normal" fill="#1e1e1e">Winston 2008 - oral maribavir 100 mg BID</text>
<text transform="translate(201.60,409.30) scale(1.0,1)" text-anchor="end" font-size="7.0" font-weight="normal" fill="#1e1e1e">0</text>
<text transform="translate(225.00,409.30) scale(1.0,1)" text-anchor="end" font-size="7.0" font-weight="normal" fill="#1e1e1e">27</text>
<text transform="translate(251.80,409.30) scale(1.0,1)" text-anchor="end" font-size="7.0" font-weight="normal" fill="#1e1e1e">3</text>
<text transform="translate(273.50,409.30) scale(1.0,1)" text-anchor="end" font-size="7.0" font-weight="normal" fill="#1e1e1e">28</text>
<text transform="translate(335.00,409.30) scale(1.0,1)" text-anchor="end" font-size="7.0" font-weight="normal" fill="#1e1e1e">0.13 [0.01, 2.69]</text>
<text transform="translate(31.10,418.10) scale(0.962,1)" text-anchor="start" font-size="7.0" font-weight="normal" fill="#1e1e1e">Winston 2008 - oral maribavir 400 mg daily</text>
<text transform="translate(201.60,418.10) scale(1.0,1)" text-anchor="end" font-size="7.0" font-weight="normal" fill="#1e1e1e">0</text>
<text transform="translate(225.00,418.10) scale(1.0,1)" text-anchor="end" font-size="7.0" font-weight="normal" fill="#1e1e1e">27</text>
<text transform="translate(251.80,418.10) scale(1.0,1)" text-anchor="end" font-size="7.0" font-weight="normal" fill="#1e1e1e">3</text>
<text transform="translate(273.50,418.10) scale(1.0,1)" text-anchor="end" font-size="7.0" font-weight="normal" fill="#1e1e1e">28</text>
<text transform="translate(335.00,418.10) scale(1.0,1)" text-anchor="end" font-size="7.0" font-weight="normal" fill="#1e1e1e">0.13 [0.01, 2.69]</text>
<text transform="translate(31.10,426.90) scale(0.962,1)" text-anchor="start" font-size="7.0" font-weight="normal" fill="#1e1e1e">Winston 2008 - oral maribaivr 400 mg BID</text>
<text transform="translate(201.60,426.90) scale(1.0,1)" text-anchor="end" font-size="7.0" font-weight="normal" fill="#1e1e1e">0</text>
<text transform="translate(225.00,426.90) scale(1.0,1)" text-anchor="end" font-size="7.0" font-weight="normal" fill="#1e1e1e">26</text>
<text transform="translate(251.80,426.90) scale(1.0,1)" text-anchor="end" font-size="7.0" font-weight="normal" fill="#1e1e1e">3</text>
<text transform="translate(273.50,426.90) scale(1.0,1)" text-anchor="end" font-size="7.0" font-weight="normal" fill="#1e1e1e">28</text>
<text transform="translate(335.00,426.90) scale(1.0,1)" text-anchor="end" font-size="7.0" font-weight="normal" fill="#1e1e1e">0.14 [0.01, 2.80]</text>
<text transform="translate(31.10,435.70) scale(0.962,1)" text-anchor="start" font-size="7.0" font-weight="normal" fill="#1e1e1e">Marty 2011 - oral maribavir 100 mg BID</text>
<text transform="translate(201.60,435.70) scale(1.0,1)" text-anchor="end" font-size="7.0" font-weight="normal" fill="#1e1e1e">20</text>
<text transform="translate(225.00,435.70) scale(1.0,1)" text-anchor="end" font-size="7.0" font-weight="normal" fill="#1e1e1e">454</text>
<text transform="translate(251.80,435.70) scale(1.0,1)" text-anchor="end" font-size="7.0" font-weight="normal" fill="#1e1e1e">11</text>
<text transform="translate(273.50,435.70) scale(1.0,1)" text-anchor="end" font-size="7.0" font-weight="normal" fill="#1e1e1e">227</text>
<text transform="translate(335.00,435.70) scale(1.0,1)" text-anchor="end" font-size="7.0" font-weight="normal" fill="#1e1e1e">0.90 [0.43, 1.92]</text>
<text transform="translate(31.10,444.50) scale(0.962,1)" text-anchor="start" font-size="7.0" font-weight="normal" fill="#1e1e1e">Marty 2013 - brincidofovir 40 mg weekly</text>
<text transform="translate(201.60,444.50) scale(1.0,1)" text-anchor="end" font-size="7.0" font-weight="normal" fill="#1e1e1e">3</text>
<text transform="translate(225.00,444.50) scale(1.0,1)" text-anchor="end" font-size="7.0" font-weight="normal" fill="#1e1e1e">25</text>
<text transform="translate(251.80,444.50) scale(1.0,1)" text-anchor="end" font-size="7.0" font-weight="normal" fill="#1e1e1e">2</text>
<text transform="translate(273.50,444.50) scale(1.0,1)" text-anchor="end" font-size="7.0" font-weight="normal" fill="#1e1e1e">59</text>
<text transform="translate(335.00,444.50) scale(1.0,1)" text-anchor="end" font-size="7.0" font-weight="normal" fill="#1e1e1e">3.89 [0.61, 24.86]</text>
<text transform="translate(31.10,453.30) scale(0.962,1)" text-anchor="start" font-size="7.0" font-weight="normal" fill="#1e1e1e">Marty 2013 - brincidofovir 100mg weekly</text>
<text transform="translate(201.60,453.30) scale(1.0,1)" text-anchor="end" font-size="7.0" font-weight="normal" fill="#1e1e1e">3</text>
<text transform="translate(225.00,453.30) scale(1.0,1)" text-anchor="end" font-size="7.0" font-weight="normal" fill="#1e1e1e">27</text>
<text transform="translate(251.80,453.30) scale(1.0,1)" text-anchor="end" font-size="7.0" font-weight="normal" fill="#1e1e1e">2</text>
<text transform="translate(273.50,453.30) scale(1.0,1)" text-anchor="end" font-size="7.0" font-weight="normal" fill="#1e1e1e">59</text>
<text transform="translate(335.00,453.30) scale(1.0,1)" text-anchor="end" font-size="7.0" font-weight="normal" fill="#1e1e1e">3.56 [0.56, 22.69]</text>
<text transform="translate(31.10,462.10) scale(0.962,1)" text-anchor="start" font-size="7.0" font-weight="normal" fill="#1e1e1e">Marty 2013 - brincidofovir 100mg twice weekly</text>
<text transform="translate(201.60,462.10) scale(1.0,1)" text-anchor="end" font-size="7.0" font-weight="normal" fill="#1e1e1e">1</text>
<text transform="translate(225.00,462.10) scale(1.0,1)" text-anchor="end" font-size="7.0" font-weight="normal" fill="#1e1e1e">50</text>
<text transform="translate(251.80,462.10) scale(1.0,1)" text-anchor="end" font-size="7.0" font-weight="normal" fill="#1e1e1e">2</text>
<text transform="translate(273.50,462.10) scale(1.0,1)" text-anchor="end" font-size="7.0" font-weight="normal" fill="#1e1e1e">59</text>
<text transform="translate(335.00,462.10) scale(1.0,1)" text-anchor="end" font-size="7.0" font-weight="normal" fill="#1e1e1e">0.58 [0.05, 6.61]</text>
<text transform="translate(31.10,470.90) scale(0.962,1)" text-anchor="start" font-size="7.0" font-weight="normal" fill="#1e1e1e">Marty 2013 - brincidofovir 200mg weekly</text>
<text transform="translate(201.60,470.90) scale(1.0,1)" text-anchor="end" font-size="7.0" font-weight="normal" fill="#1e1e1e">0</text>
<text transform="translate(225.00,470.90) scale(1.0,1)" text-anchor="end" font-size="7.0" font-weight="normal" fill="#1e1e1e">39</text>
<text transform="translate(251.80,470.90) scale(1.0,1)" text-anchor="end" font-size="7.0" font-weight="normal" fill="#1e1e1e">2</text>
<text transform="translate(273.50,470.90) scale(1.0,1)" text-anchor="end" font-size="7.0" font-weight="normal" fill="#1e1e1e">59</text>
<text transform="translate(335.00,470.90) scale(1.0,1)" text-anchor="end" font-size="7.0" font-weight="normal" fill="#1e1e1e">0.29 [0.01, 6.23]</text>
<text transform="translate(31.10,479.70) scale(0.962,1)" text-anchor="start" font-size="7.0" font-weight="normal" fill="#1e1e1e">Marty 2013 - brincidofovir 200mg twice weekly</text>
<text transform="translate(201.60,479.70) scale(1.0,1)" text-anchor="end" font-size="7.0" font-weight="normal" fill="#1e1e1e">0</text>
<text transform="translate(225.00,479.70) scale(1.0,1)" text-anchor="end" font-size="7.0" font-weight="normal" fill="#1e1e1e">30</text>
<text transform="translate(251.80,479.70) scale(1.0,1)" text-anchor="end" font-size="7.0" font-weight="normal" fill="#1e1e1e">2</text>
<text transform="translate(273.50,479.70) scale(1.0,1)" text-anchor="end" font-size="7.0" font-weight="normal" fill="#1e1e1e">59</text>
<text transform="translate(335.00,479.70) scale(1.0,1)" text-anchor="end" font-size="7.0" font-weight="normal" fill="#1e1e1e">0.38 [0.02, 8.11]</text>
<text transform="translate(31.10,488.50) scale(0.962,1)" text-anchor="start" font-size="7.0" font-weight="normal" fill="#1e1e1e">Marty 2016 - brincidofovir 100 mg twice weekly</text>
<text transform="translate(201.60,488.50) scale(1.0,1)" text-anchor="end" font-size="7.0" font-weight="normal" fill="#1e1e1e">13</text>
<text transform="translate(225.00,488.50) scale(1.0,1)" text-anchor="end" font-size="7.0" font-weight="normal" fill="#1e1e1e">303</text>
<text transform="translate(251.80,488.50) scale(1.0,1)" text-anchor="end" font-size="7.0" font-weight="normal" fill="#1e1e1e">5</text>
<text transform="translate(273.50,488.50) scale(1.0,1)" text-anchor="end" font-size="7.0" font-weight="normal" fill="#1e1e1e">149</text>
<text transform="translate(335.00,488.50) scale(1.0,1)" text-anchor="end" font-size="7.0" font-weight="normal" fill="#1e1e1e">1.29 [0.45, 3.69]</text>
<text transform="translate(31.10,497.30) scale(0.962,1)" text-anchor="start" font-size="7.0" font-weight="normal" fill="#1e1e1e">Chemaly 2014 - letermovir 60mg daily</text>
<text transform="translate(201.60,497.30) scale(1.0,1)" text-anchor="end" font-size="7.0" font-weight="normal" fill="#1e1e1e">0</text>
<text transform="translate(225.00,497.30) scale(1.0,1)" text-anchor="end" font-size="7.0" font-weight="normal" fill="#1e1e1e">33</text>
<text transform="translate(251.80,497.30) scale(1.0,1)" text-anchor="end" font-size="7.0" font-weight="normal" fill="#1e1e1e">0</text>
<text transform="translate(273.50,497.30) scale(1.0,1)" text-anchor="end" font-size="7.0" font-weight="normal" fill="#1e1e1e">33</text>
<text transform="translate(335.00,497.30) scale(0.962,1)" text-anchor="end" font-size="7.0" font-weight="normal" fill="#1e1e1e">Not estimable</text>
<text transform="translate(31.10,506.10) scale(0.962,1)" text-anchor="start" font-size="7.0" font-weight="normal" fill="#1e1e1e">Chemaly 2014 - letermovir 120mg daily</text>
<text transform="translate(201.60,506.10) scale(1.0,1)" text-anchor="end" font-size="7.0" font-weight="normal" fill="#1e1e1e">0</text>
<text transform="translate(225.00,506.10) scale(1.0,1)" text-anchor="end" font-size="7.0" font-weight="normal" fill="#1e1e1e">31</text>
<text transform="translate(251.80,506.10) scale(1.0,1)" text-anchor="end" font-size="7.0" font-weight="normal" fill="#1e1e1e">0</text>
<text transform="translate(273.50,506.10) scale(1.0,1)" text-anchor="end" font-size="7.0" font-weight="normal" fill="#1e1e1e">33</text>
<text transform="translate(335.00,506.10) scale(0.962,1)" text-anchor="end" font-size="7.0" font-weight="normal" fill="#1e1e1e">Not estimable</text>
<text transform="translate(31.10,514.90) scale(0.962,1)" text-anchor="start" font-size="7.0" font-weight="normal" fill="#1e1e1e">Chemaly 2014 - letermovir 240mg daily</text>
<text transform="translate(201.60,514.90) scale(1.0,1)" text-anchor="end" font-size="7.0" font-weight="normal" fill="#1e1e1e">0</text>
<text transform="translate(225.00,514.90) scale(1.0,1)" text-anchor="end" font-size="7.0" font-weight="normal" fill="#1e1e1e">34</text>
<text transform="translate(251.80,514.90) scale(1.0,1)" text-anchor="end" font-size="7.0" font-weight="normal" fill="#1e1e1e">0</text>
<text transform="translate(273.50,514.90) scale(1.0,1)" text-anchor="end" font-size="7.0" font-weight="normal" fill="#1e1e1e">33</text>
<text transform="translate(335.00,514.90) scale(0.962,1)" text-anchor="end" font-size="7.0" font-weight="normal" fill="#1e1e1e">Not estimable</text>
<text transform="translate(31.10,523.70) scale(0.962,1)" text-anchor="start" font-size="7.0" font-weight="normal" fill="#1e1e1e">Marty 2017 - 480 mg letermovir daily</text>
<text transform="translate(201.60,523.70) scale(1.0,1)" text-anchor="end" font-size="7.0" font-weight="normal" fill="#1e1e1e">5</text>
<text transform="translate(225.00,523.70) scale(1.0,1)" text-anchor="end" font-size="7.0" font-weight="normal" fill="#1e1e1e">325</text>
<text transform="translate(251.80,523.70) scale(1.0,1)" text-anchor="end" font-size="7.0" font-weight="normal" fill="#1e1e1e">3</text>
<text transform="translate(273.50,523.70) scale(1.0,1)" text-anchor="end" font-size="7.0" font-weight="normal" fill="#1e1e1e">170</text>
<text transform="translate(335.00,523.70) scale(1.0,1)" text-anchor="end" font-size="7.0" font-weight="normal" fill="#1e1e1e">0.87 [0.21, 3.68]</text>
<line x1="343.17" y1="336.80" x2="461.94" y2="336.80" stroke="#333" stroke-width="1.45"/>
<rect x="402.00" y="336.25" width="1.10" height="1.10" fill="#8c1036"/>
<line x1="397.81" y1="372.00" x2="443.66" y2="372.00" stroke="#333" stroke-width="1.45"/>
<rect x="419.79" y="371.05" width="1.90" height="1.90" fill="#8c1036"/>
<line x1="344.80" y1="380.80" x2="415.97" y2="380.80" stroke="#333" stroke-width="1.45"/>
<path d="M341.40,380.80 L345.60,378.85 L345.60,382.75 Z" fill="#1a1a1a"/>
<rect x="362.92" y="379.52" width="2.55" height="2.55" fill="#8c1036"/>
<line x1="382.75" y1="389.60" x2="427.00" y2="389.60" stroke="#333" stroke-width="1.45"/>
<rect x="403.60" y="388.32" width="2.56" height="2.56" fill="#8c1036"/>
<line x1="369.55" y1="398.40" x2="414.74" y2="398.40" stroke="#333" stroke-width="1.45"/>
<rect x="390.50" y="396.75" width="3.29" height="3.29" fill="#8c1036"/>
<line x1="344.80" y1="407.20" x2="441.72" y2="407.20" stroke="#333" stroke-width="1.45"/>
<path d="M341.40,407.20 L345.60,405.25 L345.60,409.15 Z" fill="#1a1a1a"/>
<rect x="387.11" y="406.48" width="1.44" height="1.44" fill="#8c1036"/>
<line x1="344.80" y1="416.00" x2="441.72" y2="416.00" stroke="#333" stroke-width="1.45"/>
<path d="M341.40,416.00 L345.60,414.05 L345.60,417.95 Z" fill="#1a1a1a"/>
<rect x="387.11" y="415.28" width="1.44" height="1.44" fill="#8c1036"/>
<line x1="344.80" y1="424.80" x2="442.40" y2="424.80" stroke="#333" stroke-width="1.45"/>
<path d="M341.40,424.80 L345.60,422.85 L345.60,426.75 Z" fill="#1a1a1a"/>
<rect x="387.78" y="424.09" width="1.42" height="1.42" fill="#8c1036"/>
<line x1="408.73" y1="433.60" x2="435.70" y2="433.60" stroke="#333" stroke-width="1.45"/>
<rect x="420.64" y="432.03" width="3.14" height="3.14" fill="#8c1036"/>
<line x1="415.09" y1="442.40" x2="481.49" y2="442.40" stroke="#333" stroke-width="1.45"/>
<rect x="447.74" y="441.85" width="1.10" height="1.10" fill="#8c1036"/>
<line x1="413.60" y1="451.20" x2="479.86" y2="451.20" stroke="#333" stroke-width="1.45"/>
<rect x="446.18" y="450.65" width="1.10" height="1.10" fill="#8c1036"/>
<line x1="370.81" y1="460.00" x2="457.80" y2="460.00" stroke="#333" stroke-width="1.45"/>
<rect x="413.74" y="459.44" width="1.12" height="1.12" fill="#8c1036"/>
<line x1="347.11" y1="468.80" x2="456.73" y2="468.80" stroke="#333" stroke-width="1.45"/>
<rect x="401.37" y="468.25" width="1.10" height="1.10" fill="#8c1036"/>
<line x1="351.65" y1="477.60" x2="461.44" y2="477.60" stroke="#333" stroke-width="1.45"/>
<rect x="406.00" y="477.05" width="1.10" height="1.10" fill="#8c1036"/>
<line x1="409.77" y1="486.40" x2="447.37" y2="486.40" stroke="#333" stroke-width="1.45"/>
<rect x="427.51" y="485.34" width="2.12" height="2.12" fill="#8c1036"/>
<line x1="395.67" y1="521.60" x2="447.33" y2="521.60" stroke="#333" stroke-width="1.45"/>
<rect x="420.68" y="520.78" width="1.65" height="1.65" fill="#8c1036"/>
<text transform="translate(22.50,541.10) scale(0.975,1)" text-anchor="start" font-size="7.0" font-weight="bold" fill="#1e1e1e" stroke="#1e1e1e" stroke-width="0.1">Total (95% CI)</text>
<text transform="translate(224.60,540.90) scale(0.975,1)" text-anchor="end" font-size="7.0" font-weight="bold" fill="#1e1e1e" stroke="#1e1e1e" stroke-width="0.1">1664</text>
<text transform="translate(272.00,540.90) scale(0.975,1)" text-anchor="end" font-size="7.0" font-weight="bold" fill="#1e1e1e" stroke="#1e1e1e" stroke-width="0.1">1263</text>
<text transform="translate(335.00,540.90) scale(0.975,1)" text-anchor="end" font-size="7.0" font-weight="bold" fill="#1e1e1e" stroke="#1e1e1e" stroke-width="0.1">0.56 [0.40, 0.80]</text>
<text transform="translate(22.70,551.30) scale(0.962,1)" text-anchor="start" font-size="7.0" font-weight="normal" fill="#1e1e1e">Total events</text>
<text transform="translate(201.20,551.30) scale(1.0,1)" text-anchor="end" font-size="7.0" font-weight="normal" fill="#1e1e1e">57</text>
<text transform="translate(250.20,551.30) scale(1.0,1)" text-anchor="end" font-size="7.0" font-weight="normal" fill="#1e1e1e">81</text>
<text transform="translate(22.70,560.50) scale(0.95,1)" text-anchor="start" font-size="7.0" font-weight="normal" fill="#1e1e1e">Heterogeneity: Chi<tspan font-size="4.6" dy="-2.4">2</tspan><tspan dy="2.4"> = 23.21, df = 15 (P = 0.08); I</tspan><tspan font-size="4.6" dy="-2.4">2</tspan><tspan dy="2.4"> = 35%</tspan></text>
<text transform="translate(22.70,568.90) scale(0.95,1)" text-anchor="start" font-size="7.0" font-weight="normal" fill="#1e1e1e">Test for overall effect: Z = 3.18 (P = 0.001)</text>
<path d="M407.50,538.80 L413.20,535.00 L418.90,538.80 L413.20,542.60 Z" fill="#2c4677"/>
<rect x="423.40" y="329.80" width="1.2" height="226.90" fill="#1a1a1a"/>
<rect x="338.70" y="556.10" width="170.50" height="1.3" fill="#111"/>
<rect x="340.90" y="556.75" width="1.4" height="3.4" fill="#111"/>
<text transform="translate(341.60,569.30) scale(1.0,1)" text-anchor="middle" font-size="7.0" font-weight="normal" fill="#1e1e1e">0.01</text>
<rect x="382.10" y="556.75" width="1.4" height="3.4" fill="#111"/>
<text transform="translate(382.80,569.30) scale(1.0,1)" text-anchor="middle" font-size="7.0" font-weight="normal" fill="#1e1e1e">0.1</text>
<rect x="423.30" y="556.75" width="1.4" height="3.4" fill="#111"/>
<text transform="translate(424.00,569.30) scale(1.0,1)" text-anchor="middle" font-size="7.0" font-weight="normal" fill="#1e1e1e">1</text>
<rect x="464.50" y="556.75" width="1.4" height="3.4" fill="#111"/>
<text transform="translate(465.20,569.30) scale(1.0,1)" text-anchor="middle" font-size="7.0" font-weight="normal" fill="#1e1e1e">10</text>
<rect x="505.70" y="556.75" width="1.4" height="3.4" fill="#111"/>
<text transform="translate(506.40,569.30) scale(1.0,1)" text-anchor="middle" font-size="7.0" font-weight="normal" fill="#1e1e1e">100</text>
<text transform="translate(360.10,582.20) scale(0.6354654186167447,1)" text-anchor="start" font-size="10" font-weight="normal" fill="#222" stroke="#222" stroke-width="0.35">Favors [experimental]</text>
<text transform="translate(428.00,582.20) scale(0.6355886087429712,1)" text-anchor="start" font-size="10" font-weight="normal" fill="#222" stroke="#222" stroke-width="0.35">Favors [control]</text>
<rect x="0" y="0" width="520" height="1.4" fill="#000"/>
<rect x="0" y="0" width="1.5" height="593" fill="#000"/>
<rect x="518.6" y="0" width="1.4" height="593" fill="#000"/>
<rect x="0" y="591.6" width="520" height="1.4" fill="#000"/>
</svg>
</body></html>
